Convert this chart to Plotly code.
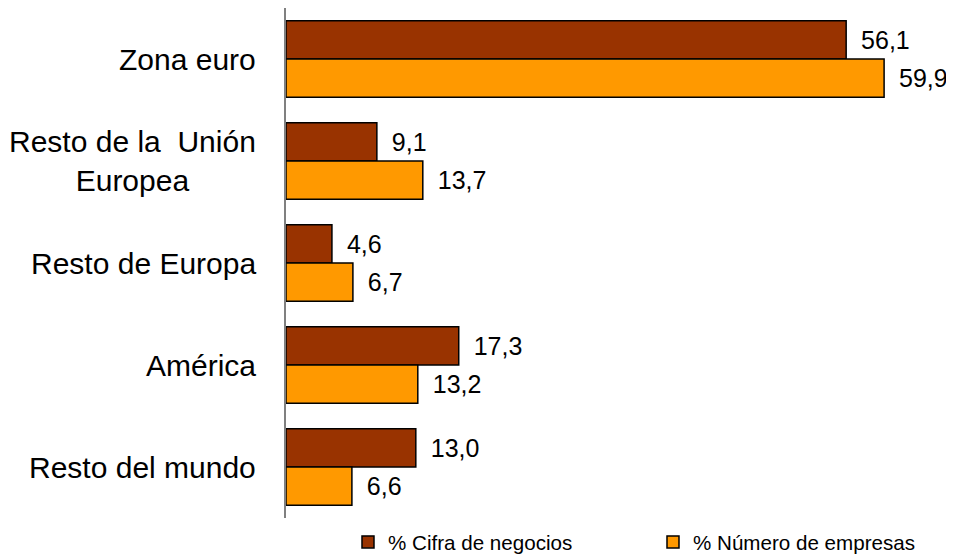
import plotly.graph_objects as go

categories = ["Zona euro", "Resto de la  Unión<br>Europea", "Resto de Europa", "América", "Resto del mundo"]
cifra_negocios = [56.1, 9.1, 4.6, 17.3, 13.0]
numero_empresas = [59.9, 13.7, 6.7, 13.2, 6.6]
series_names = ["% Cifra de negocios", "% Número de empresas"]
colors = ["#993300", "#FF9900"]

FONT = "Liberation Sans, Arial, sans-serif"

fig = go.Figure()
for name, vals, col in zip(series_names, [cifra_negocios, numero_empresas], colors):
    fig.add_trace(go.Bar(
        y=categories, x=vals, name=name, orientation="h",
        marker=dict(color=col, line=dict(color="black", width=1.5)),
        texttemplate="\u00a0\u2009%{x:.1f}", textposition="outside",
        textfont=dict(size=25, color="black", family=FONT),
        cliponaxis=False,
    ))

for c in categories:
    fig.add_annotation(x=0, xref="paper", y=c, yref="y", text=c, showarrow=False,
                       xanchor="right", xshift=-28, align="center",
                       font=dict(size=30, color="black", family=FONT))

fig.update_layout(
    width=946, height=546,
    margin=dict(l=278, r=0, t=0, b=36, pad=0, autoexpand=False),
    paper_bgcolor="white", plot_bgcolor="white",
    barmode="group", bargap=0.25, bargroupgap=0,
    separators=",.",
    font=dict(family=FONT, color="black"),
    xaxis=dict(range=[0, 66.9], visible=False, showgrid=False, zeroline=False),
    yaxis=dict(autorange="reversed", showticklabels=False, ticks="", showgrid=False,
               showline=True, linecolor="#808080", linewidth=1.5, zeroline=False),
    legend=dict(orientation="h", xref="container", yref="container",
                x=0.3594, y=0.022, xanchor="left", yanchor="middle",
                font=dict(size=20.6, family=FONT, color="black"),
                entrywidth=260, entrywidthmode="pixels",
                traceorder="normal", itemclick=False),
    showlegend=True,
)

fig.write_html("out.html", config={"displayModeBar": False})
